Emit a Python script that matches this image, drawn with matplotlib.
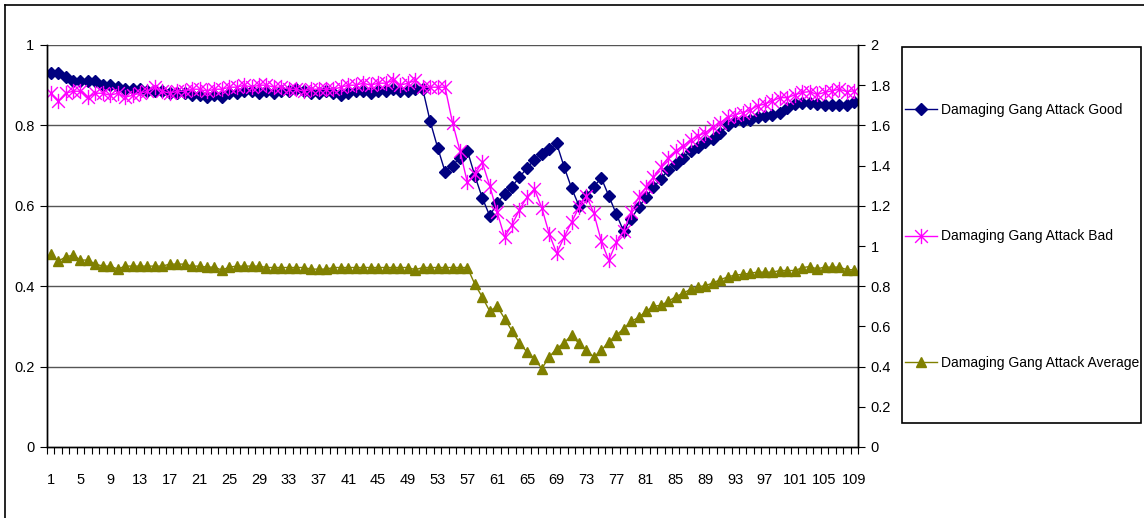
import numpy as np
import matplotlib
matplotlib.use('Agg')
import matplotlib.pyplot as plt
from matplotlib.path import Path
from matplotlib.lines import Line2D
from matplotlib.patches import Rectangle

plt.rcParams['font.family'] = ['Liberation Sans', 'DejaVu Sans']

rounds = np.arange(1, 110)

good = [0.93, 0.93, 0.92, 0.91, 0.91, 0.91, 0.91, 0.90, 0.90, 0.895,
        0.89, 0.89, 0.89, 0.885, 0.885, 0.885, 0.88, 0.88, 0.88, 0.875,
        0.875, 0.87, 0.875, 0.87, 0.88, 0.88, 0.885, 0.885, 0.88, 0.885,
        0.88, 0.885, 0.885, 0.89, 0.885, 0.88, 0.88, 0.885, 0.88, 0.875,
        0.88, 0.885, 0.885, 0.88, 0.885, 0.885, 0.89, 0.885, 0.885, 0.89,
        0.89, 0.81, 0.745, 0.685, 0.70, 0.72, 0.737, 0.675, 0.62, 0.575,
        0.606, 0.63, 0.648, 0.671, 0.694, 0.714, 0.73, 0.741, 0.755, 0.697,
        0.644, 0.60, 0.625, 0.648, 0.669, 0.625, 0.58, 0.537, 0.567, 0.596,
        0.621, 0.646, 0.667, 0.689, 0.704, 0.72, 0.737, 0.747, 0.758, 0.766,
        0.782, 0.80, 0.81, 0.811, 0.813, 0.82, 0.824, 0.826, 0.832, 0.843,
        0.853, 0.855, 0.855, 0.853, 0.85, 0.85, 0.85, 0.85, 0.857]

bad = [0.88, 0.86, 0.88, 0.885, 0.885, 0.87, 0.88, 0.88, 0.875, 0.88,
       0.87, 0.875, 0.88, 0.885, 0.895, 0.885, 0.88, 0.885, 0.885, 0.89,
       0.89, 0.885, 0.89, 0.89, 0.895, 0.895, 0.90, 0.895, 0.90, 0.90,
       0.895, 0.895, 0.89, 0.89, 0.885, 0.89, 0.89, 0.89, 0.89, 0.895,
       0.90, 0.90, 0.905, 0.90, 0.905, 0.905, 0.912, 0.90, 0.905, 0.912,
       0.895, 0.895, 0.895, 0.895, 0.807, 0.737, 0.658, 0.679, 0.708, 0.65,
       0.584, 0.522, 0.553, 0.59, 0.621, 0.642, 0.595, 0.53, 0.482, 0.522,
       0.559, 0.596, 0.625, 0.581, 0.512, 0.464, 0.509, 0.538, 0.584, 0.621,
       0.646, 0.671, 0.696, 0.72, 0.737, 0.749, 0.763, 0.774, 0.782, 0.795,
       0.807, 0.82, 0.826, 0.832, 0.838, 0.849, 0.853, 0.861, 0.869, 0.869,
       0.876, 0.882, 0.884, 0.877, 0.882, 0.886, 0.89, 0.884, 0.886]

# average is plotted against the secondary (0-2) axis
average = [0.96, 0.925, 0.945, 0.955, 0.93, 0.93, 0.91, 0.90, 0.90, 0.885,
           0.90, 0.90, 0.90, 0.90, 0.90, 0.90, 0.91, 0.91, 0.91, 0.90,
           0.90, 0.895, 0.895, 0.88, 0.895, 0.90, 0.90, 0.90, 0.90, 0.893,
           0.893, 0.893, 0.893, 0.893, 0.893, 0.885, 0.885, 0.885, 0.893, 0.893,
           0.893, 0.893, 0.893, 0.893, 0.893, 0.893, 0.893, 0.893, 0.893, 0.882,
           0.893, 0.893, 0.893, 0.893, 0.893, 0.893, 0.893, 0.81, 0.746, 0.676,
           0.70, 0.639, 0.577, 0.518, 0.473, 0.44, 0.39, 0.448, 0.49, 0.518,
           0.556, 0.515, 0.481, 0.448, 0.481, 0.523, 0.556, 0.589, 0.625, 0.645,
           0.675, 0.70, 0.705, 0.725, 0.748, 0.765, 0.785, 0.797, 0.802, 0.817,
           0.832, 0.847, 0.855, 0.859, 0.865, 0.87, 0.87, 0.87, 0.878, 0.878,
           0.878, 0.892, 0.898, 0.886, 0.895, 0.895, 0.895, 0.882, 0.882]

labels = ['Damaging Gang Attack Good', 'Damaging Gang Attack Bad',
          'Damaging Gang Attack Average']

# excel-style star: an X with a vertical bar through it
star = Path([(-1, -1), (1, 1), (-1, 1), (1, -1), (0, -1.2), (0, 1.2)],
            [Path.MOVETO, Path.LINETO, Path.MOVETO, Path.LINETO, Path.MOVETO, Path.LINETO])

W, H = 1144, 518
fig = plt.figure(figsize=(W / 100, H / 100), dpi=100)

# outer chart border (top and left edges)
fig.add_artist(Line2D([5 / W, 1], [1 - 5 / H, 1 - 5 / H], color='black', lw=1.2))
fig.add_artist(Line2D([5 / W, 5 / W], [0, 1 - 5 / H], color='black', lw=1.2))

ax = fig.add_axes([47 / W, 1 - 447 / H, (858 - 47) / W, (447 - 45) / H])
ax2 = ax.twinx()

ax.set_xlim(0.5, 109.5)
ax.set_ylim(0, 1)
ax2.set_ylim(0, 2)

for y in [0.2, 0.4, 0.6, 0.8, 1.0]:
    ax.axhline(y, color='#555555', lw=1, zorder=0)

l1, = ax.plot(rounds, good, color='#000080', lw=1, marker='D', ms=6,
              markeredgecolor='#000080', markerfacecolor='#000080')
l2, = ax.plot(rounds, bad, color='#FF00FF', lw=1, marker=star, ms=11,
              markeredgewidth=1, markerfacecolor='none', markeredgecolor='#FF00FF')
l3, = ax2.plot(rounds, average, color='#808000', lw=1, marker='^', ms=7,
               markeredgecolor='#808000', markerfacecolor='#808000')

ax.set_xticks(np.arange(0.5, 110, 1), minor=True)
ax.set_xticks(rounds[::4])
ax.set_xticklabels([str(r) for r in rounds[::4]])
ax.tick_params(axis='x', which='major', length=0, pad=19, labelsize=10.5)
ax.tick_params(axis='x', which='minor', length=5, width=0.8, direction='out')

ax.set_yticks(np.arange(0, 1.01, 0.2))
ax.set_yticklabels(['0', '0.2', '0.4', '0.6', '0.8', '1'])
ax.tick_params(axis='y', length=5, width=0.8, pad=4, labelsize=10.5)

ax2.set_yticks(np.arange(0, 2.01, 0.2))
ax2.set_yticklabels(['0', '0.2', '0.4', '0.6', '0.8', '1', '1.2', '1.4', '1.6', '1.8', '2'])
ax2.tick_params(axis='y', length=5, width=0.8, pad=4, labelsize=10.5)

for a in (ax, ax2):
    a.spines['top'].set_visible(False)
    for s in ('left', 'right', 'bottom'):
        a.spines[s].set_linewidth(1)
        a.spines[s].set_color('black')

# legend box on the right
fig.add_artist(Rectangle((902 / W, 1 - 423 / H), (1141 - 902) / W, (423 - 47) / H,
                         transform=fig.transFigure, fill=False, edgecolor='black', lw=1.2))
fig.legend([l1, l2, l3], labels, loc='upper left',
           bbox_to_anchor=(905 / W, 1 - 103 / H), frameon=False, fontsize=10,
           handlelength=2.3, handletextpad=0.3, labelspacing=8.1,
           borderaxespad=0, borderpad=0)

fig.savefig('out.png', dpi=100)
